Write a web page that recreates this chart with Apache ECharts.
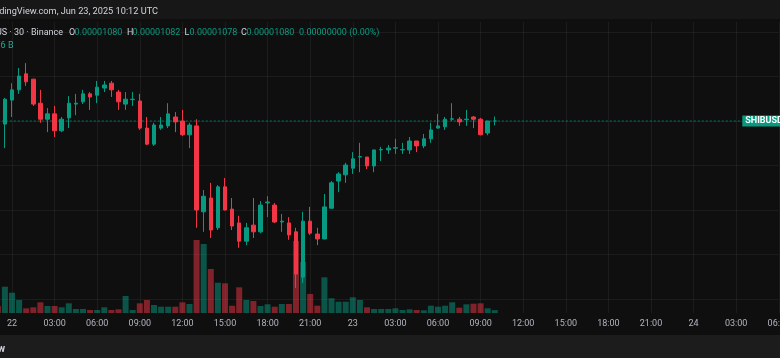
<!DOCTYPE html>
<html><head><meta charset="utf-8">
<script src="https://cdn.jsdelivr.net/npm/echarts@6/dist/echarts.min.js"></script>
<style>html,body{margin:0;padding:0;background:#0f0f0f;}#c{width:780px;height:358px;}</style>
</head><body><div id="c"></div>
<script>
// 30-minute SHIBUSD candles, Binance, from 2025-06-21 23:00 UTC
const startTimeUTC = [2025, 5, 21, 23, 0];
const slotCount = 111; // visible time slots incl. empty future space
const open  = [1.0858e-5,1.0786e-5,1.0894e-5,1.0940e-5,1.1012e-5,1.0988e-5,1.0880e-5,1.0808e-5,1.0832e-5,1.0756e-5,
               1.0814e-5,1.0876e-5,1.0886e-5,1.0922e-5,1.0916e-5,1.0948e-5,1.0970e-5,1.0930e-5,1.0876e-5,1.0896e-5,
               1.0890e-5,1.0768e-5,1.0696e-5,1.0768e-5,1.0778e-5,1.0818e-5,1.0800e-5,1.0738e-5,1.0778e-5,1.0392e-5,
               1.0454e-5,1.0320e-5,1.0504e-5,1.0404e-5,1.0342e-5,1.0260e-5,1.0332e-5,1.0302e-5,1.0432e-5,1.0422e-5,
               1.0346e-5,1.0342e-5,1.0302e-5,1.0098e-5,1.0350e-5,1.0292e-5,1.0270e-5,1.0408e-5,1.0530e-5,1.0558e-5,
               1.0588e-5,1.0638e-5,1.0638e-5,1.0598e-5,1.0670e-5,1.0670e-5,1.0678e-5,1.0670e-5,1.0670e-5,1.0710e-5,
               1.0688e-5,1.0720e-5,1.0768e-5,1.0774e-5,1.0808e-5,1.0808e-5,1.0806e-5,1.0818e-5,1.0808e-5,1.0746e-5,
               1.0800e-5];
const high  = [1.0876e-5,1.0904e-5,1.0970e-5,1.1038e-5,1.1060e-5,1.0990e-5,1.0940e-5,1.0858e-5,1.0868e-5,1.0818e-5,
               1.0912e-5,1.0922e-5,1.0940e-5,1.0930e-5,1.0980e-5,1.0980e-5,1.0980e-5,1.0940e-5,1.0930e-5,1.0930e-5,
               1.0922e-5,1.0818e-5,1.0792e-5,1.0818e-5,1.0880e-5,1.0840e-5,1.0850e-5,1.0792e-5,1.0808e-5,1.0490e-5,
               1.0522e-5,1.0512e-5,1.0544e-5,1.0454e-5,1.0374e-5,1.0342e-5,1.0454e-5,1.0440e-5,1.0462e-5,1.0432e-5,
               1.0382e-5,1.0368e-5,1.0320e-5,1.0392e-5,1.0414e-5,1.0320e-5,1.0472e-5,1.0530e-5,1.0570e-5,1.0612e-5,
               1.0660e-5,1.0702e-5,1.0638e-5,1.0670e-5,1.0684e-5,1.0692e-5,1.0720e-5,1.0702e-5,1.0728e-5,1.0710e-5,
               1.0742e-5,1.0792e-5,1.0832e-5,1.0818e-5,1.0880e-5,1.0818e-5,1.0850e-5,1.0822e-5,1.0814e-5,1.0800e-5,
               1.0820e-5];
const low   = [1.0782e-5,1.0678e-5,1.0818e-5,1.0922e-5,1.0958e-5,1.0868e-5,1.0792e-5,1.0750e-5,1.0728e-5,1.0750e-5,
               1.0768e-5,1.0826e-5,1.0876e-5,1.0850e-5,1.0880e-5,1.0930e-5,1.0908e-5,1.0850e-5,1.0850e-5,1.0868e-5,
               1.0760e-5,1.0692e-5,1.0688e-5,1.0760e-5,1.0768e-5,1.0750e-5,1.0732e-5,1.0678e-5,1.0320e-5,1.0302e-5,
               1.0274e-5,1.0310e-5,1.0398e-5,1.0310e-5,1.0230e-5,1.0242e-5,1.0274e-5,1.0296e-5,1.0368e-5,1.0342e-5,
               1.0302e-5,1.0266e-5,1.0050e-5,1.0072e-5,1.0288e-5,1.0242e-5,1.0268e-5,1.0406e-5,1.0480e-5,1.0522e-5,
               1.0562e-5,1.0570e-5,1.0584e-5,1.0570e-5,1.0620e-5,1.0652e-5,1.0652e-5,1.0652e-5,1.0652e-5,1.0660e-5,
               1.0678e-5,1.0702e-5,1.0766e-5,1.0760e-5,1.0800e-5,1.0778e-5,1.0778e-5,1.0768e-5,1.0736e-5,1.0736e-5,
               1.0780e-5];
const close = [1.0792e-5,1.0898e-5,1.0940e-5,1.1002e-5,1.0976e-5,1.0876e-5,1.0808e-5,1.0832e-5,1.0756e-5,1.0808e-5,
               1.0880e-5,1.0880e-5,1.0922e-5,1.0908e-5,1.0952e-5,1.0962e-5,1.0940e-5,1.0886e-5,1.0898e-5,1.0898e-5,
               1.0768e-5,1.0696e-5,1.0782e-5,1.0782e-5,1.0832e-5,1.0796e-5,1.0738e-5,1.0782e-5,1.0400e-5,1.0462e-5,
               1.0310e-5,1.0504e-5,1.0400e-5,1.0328e-5,1.0260e-5,1.0320e-5,1.0302e-5,1.0422e-5,1.0436e-5,1.0346e-5,
               1.0350e-5,1.0288e-5,1.0112e-5,1.0350e-5,1.0296e-5,1.0270e-5,1.0414e-5,1.0522e-5,1.0562e-5,1.0602e-5,
               1.0630e-5,1.0640e-5,1.0598e-5,1.0670e-5,1.0672e-5,1.0678e-5,1.0680e-5,1.0672e-5,1.0710e-5,1.0688e-5,
               1.0720e-5,1.0760e-5,1.0778e-5,1.0808e-5,1.0810e-5,1.0796e-5,1.0808e-5,1.0808e-5,1.0738e-5,1.0800e-5,
               1.0800e-5];
const volumeB = [14,52.6,40.6,26,9.4,11.4,21.4,14,14,11.4,
                 19.4,8,8,6,6,11.4,6,7.4,34,6,
                 19.4,26,16,12.6,12.6,12.6,21.4,18,146,138,
                 88,60.6,59.4,14.6,51.4,26,24,14,17.4,12.6,
                 18,18,144,102,38,14.6,71.4,29.4,22.6,22.6,
                 31.4,26,11.4,8,8,8,9.4,6,7.4,6,
                 5.4,14.6,12.6,14.6,21.4,10.6,17.4,18.6,19.4,9.4,
                 5.76];
const lastPrice = 1.0800e-5;
const priceLineEndSlot = 105;
const priceMin = 0.0000099371, priceMax = 0.0000112449;
const volumeMax = 582;
const headerTitle = 'Published on TradingView.com, Jun 23, 2025 10:12 UTC';
const legendParts = [['SHIB / TetherUS · 30 · Binance', 'sym'], ['O', 'k'], ['0.00001080', 'v'], ['H', 'k'], ['0.00001082', 'v'],
                     ['L', 'k'], ['0.00001078', 'v'], ['C', 'k'], ['0.00001080', 'v'], ['0.00000000 (0.00%)', 'v']];
const volumeLegend = 'Vol · SHIB 5.76 B';
const symbolLabel = 'SHIBUSD';

const UP = '#089981', DOWN = '#F23645';
const categories = [];
const t0 = Date.UTC(...startTimeUTC);
for (let k = 0; k < slotCount; k++) {
  categories.push(new Date(t0 + k * 1800000).toISOString().slice(0, 16).replace('T', ' '));
}
const isMajor = (v) => v.slice(14) === '00' && (+v.slice(11, 13)) % 3 === 0;
const candleData = open.map((o, i) => [o, close[i], low[i], high[i]]);
const volData = volumeB.map((v, i) => {
  const up = close[i] > open[i] || (close[i] === open[i] && (i === 0 || close[i] >= close[i - 1]));
  return { value: v, itemStyle: { color: up ? 'rgba(8,153,129,0.5)' : 'rgba(242,54,69,0.5)' } };
});

const FONT = 'Roboto, "Liberation Sans", sans-serif';
const graphics = [
  { type: 'rect', shape: { x: 0, y: 0, width: 780, height: 19 }, style: { fill: '#171717' }, z: -1 },
  { type: 'rect', shape: { x: 0, y: 335, width: 780, height: 23 }, style: { fill: '#1c1c1c' }, z: 100 },
  { type: 'text', x: 158, y: 12, style: { text: headerTitle, fill: '#d1d4dc', font: '9.2px ' + FONT, align: 'right', verticalAlign: 'middle' } },
  { type: 'text', x: 5, y: 349, z: 101, style: { text: 'TradingView', fill: '#d1d4dc', font: 'bold 10px ' + FONT, align: 'right', verticalAlign: 'middle' } },
  { type: 'text', x: 13.5, y: 45.5, style: { text: volumeLegend, fill: '#22ab94', font: '9px ' + FONT, align: 'right', verticalAlign: 'middle' } }
];
// legend line: anchor x positions
const legendX = [63, 69, 74.5, 127, 132.5, 184.5, 189.5, 241, 246.5, 299];
legendParts.forEach(([txt, kind], j) => {
  graphics.push({ type: 'text', x: legendX[j], y: 32.5, style: {
    text: txt, fill: kind === 'v' ? '#089981' : '#d1d4dc', font: '9px ' + FONT,
    align: kind === 'sym' ? 'right' : 'left', verticalAlign: 'middle' } });
});

const chart = echarts.init(document.getElementById('c'), null, { renderer: 'canvas' });
chart.setOption({
  backgroundColor: '#0f0f0f',
  animation: false,
  graphic: graphics,
  grid: { left: -2.2, right: 1.2, top: 22, height: 291, containLabel: false, outerBoundsMode: 'none' },
  xAxis: {
    type: 'category', data: categories, boundaryGap: false,
    axisLine: { show: false }, axisTick: { show: false },
    axisLabel: { color: '#b2b5be', fontSize: 9, fontFamily: FONT, margin: 6,
      interval: (i, v) => isMajor(v), hideOverlap: false,
      formatter: (v) => v.slice(11) === '00:00' ? String(+v.slice(8, 10)) : v.slice(11) },
    splitLine: { show: true, interval: (i, v) => isMajor(v), lineStyle: { color: 'rgba(242,242,242,0.06)', width: 1 } }
  },
  yAxis: [
    { type: 'value', min: priceMin, max: priceMax, splitNumber: 6,
      axisLine: { show: false }, axisTick: { show: false }, axisLabel: { show: false },
      splitLine: { show: true, showMinLine: false, showMaxLine: false, lineStyle: { color: 'rgba(242,242,242,0.06)', width: 1 } } },
    { type: 'value', min: 0, max: volumeMax, show: false, splitLine: { show: false } }
  ],
  series: [
    { type: 'bar', yAxisIndex: 1, data: volData, barWidth: 6, silent: true, z: 1 },
    { type: 'candlestick', data: candleData, barWidth: 4, z: 3,
      itemStyle: { color: UP, color0: DOWN, borderColor: UP, borderColor0: DOWN, borderWidth: 1 } },
    { type: 'line', name: 'price line', yAxisIndex: 0, silent: true, z: 2, symbol: 'none',
      data: [[categories[0], lastPrice], [categories[priceLineEndSlot], lastPrice]],
      lineStyle: { color: 'rgba(8,153,129,0.7)', type: [2, 2], width: 1 },
      endLabel: { show: true, formatter: symbolLabel, color: '#ffffff', backgroundColor: UP,
        fontSize: 9, fontWeight: 'bold', fontFamily: FONT, padding: [1, 6, 0, 3], distance: -1, lineHeight: 10 } }
  ]
});
</script></body></html>
